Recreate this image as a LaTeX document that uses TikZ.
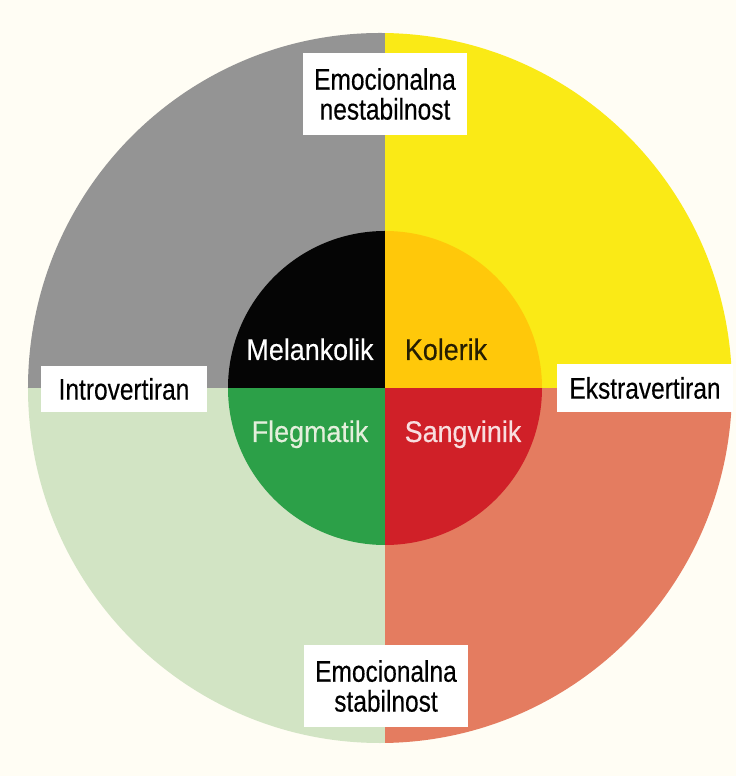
\documentclass[tikz,border=0pt]{standalone}
\usepackage{fontspec}
\setmainfont{Liberation Sans}[FakeStretch=0.82,FakeBold=0.3]
\newfontfamily\typefont{Liberation Sans}[FakeStretch=0.9,FakeBold=0.3]
\definecolor{paper}{HTML}{FFFDF4}
\definecolor{unstintro}{HTML}{949494}
\definecolor{unstextra}{HTML}{FAEA16}
\definecolor{stabintro}{HTML}{D2E4C4}
\definecolor{stabextra}{HTML}{E47C60}
\definecolor{melcol}{HTML}{050505}
\definecolor{kolcol}{HTML}{FFC80A}
\definecolor{flecol}{HTML}{2CA048}
\definecolor{sancol}{HTML}{D02028}
\begin{document}
\begin{tikzpicture}[x=0.02cm,y=0.02cm,
  axisbox/.style={fill=white,inner sep=0pt,align=center,minimum width=3.3cm,
    font=\fontsize{17}{17}\selectfont},
  typetext/.style={anchor=base,font=\typefont\fontsize{17}{17}\selectfont}]
\useasboundingbox (-385,-388) rectangle (351,388);
\fill[paper] (-385,-388) rectangle (351,388);
% outer ring: the four quadrants
\begin{scope}
\clip (-5,0) ellipse [x radius=352, y radius=355];
\fill[unstintro] (-400,0) rectangle (0,400);
\fill[unstextra] (0,0) rectangle (400,400);
\fill[stabintro] (-400,-400) rectangle (0,0);
\fill[stabextra] (0,-400) rectangle (400,0);
\end{scope}
% inner circle: the four temperaments
\begin{scope}
\clip (0,0) circle [radius=157];
\fill[melcol] (-160,0) rectangle (0,160);
\fill[kolcol] (0,0) rectangle (160,160);
\fill[flecol] (-160,-160) rectangle (0,0);
\fill[sancol] (0,-160) rectangle (160,0);
\end{scope}
\node[typetext,text=white] (mel) at (-75,28) {Melankolik};
\node[typetext,text=black!85!kolcol] (kol) at (61,28) {Kolerik};
\node[typetext,text=stabintro!60!white] (fle) at (-75,-54) {Flegmatik};
\node[typetext,text=sancol!15!white] (san) at (78,-54) {Sangvinik};
% axis labels
\node[axisbox,minimum height=1.64cm] (unstable) at (0,294) {Emocionalna\\nestabilnost};
\node[axisbox,minimum height=1.64cm] (stable) at (1,-298) {Emocionalna\\stabilnost};
\node[axisbox,minimum width=3.34cm,minimum height=0.94cm] (intro) at (-261,-1) {Introvertiran};
\node[axisbox,minimum width=3.52cm,minimum height=0.96cm] (extra) at (260,0) {Ekstravertiran};
\end{tikzpicture}
\end{document}
